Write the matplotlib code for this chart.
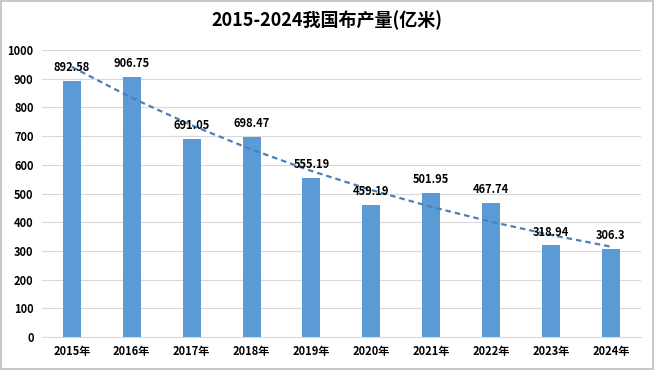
import numpy as np
import matplotlib.pyplot as plt
from matplotlib.patches import Rectangle

plt.rcParams['font.family'] = ['Noto Sans CJK SC', 'DejaVu Sans']

years = ["2015年", "2016年", "2017年", "2018年", "2019年",
         "2020年", "2021年", "2022年", "2023年", "2024年"]
output = [892.58, 906.75, 691.05, 698.47, 555.19,
          459.19, 501.95, 467.74, 318.94, 306.3]
labels = ["892.58", "906.75", "691.05", "698.47", "555.19",
          "459.19", "501.95", "467.74", "318.94", "306.3"]
title = "2015-2024我国布产量(亿米)"

bar_color = "#5B9BD5"

fig = plt.figure(figsize=(6.54, 3.70), dpi=100)
ax = fig.add_axes([0.064, 0.089, 0.916, 0.776])

x = np.arange(len(years))
ax.bar(x, output, width=0.3, color=bar_color, zorder=2)

# exponential trendline (like Excel's)
k, b = np.polyfit(x, np.log(output), 1)
ax.plot(x, np.exp(k * x + b), linestyle=(0, (2.5, 1.8)), color="#4A80BA",
        linewidth=1.6, zorder=3)

for xi, v, lab in zip(x, output, labels):
    ax.annotate(lab, (xi, v), xytext=(0, 5), textcoords="offset points",
                ha="center", va="bottom", fontsize=8, fontweight="bold", zorder=4)

ax.set_xlim(-0.5, len(years) - 0.5)
ax.set_ylim(0, 1000)
ax.set_yticks(np.arange(0, 1001, 100))
ax.set_xticks(x)
ax.set_xticklabels(years, fontsize=8, fontweight="bold")
for t in ax.get_yticklabels():
    t.set_fontsize(8)
    t.set_fontweight("bold")
ax.tick_params(axis="both", length=0, pad=6)
ax.grid(axis="y", color="#D9D9D9", linewidth=0.8, zorder=0)
for s in ["top", "right", "left"]:
    ax.spines[s].set_visible(False)
ax.spines["bottom"].set_color("#D9D9D9")

fig.text(0.5, 0.945, title, ha="center", va="center", fontsize=13, fontweight="bold")

fig.patches.append(Rectangle((0.002, 0.003), 0.996, 0.994, transform=fig.transFigure,
                             fill=False, edgecolor="#BFBFBF", linewidth=1.2))

fig.savefig("out.png", dpi=100)
